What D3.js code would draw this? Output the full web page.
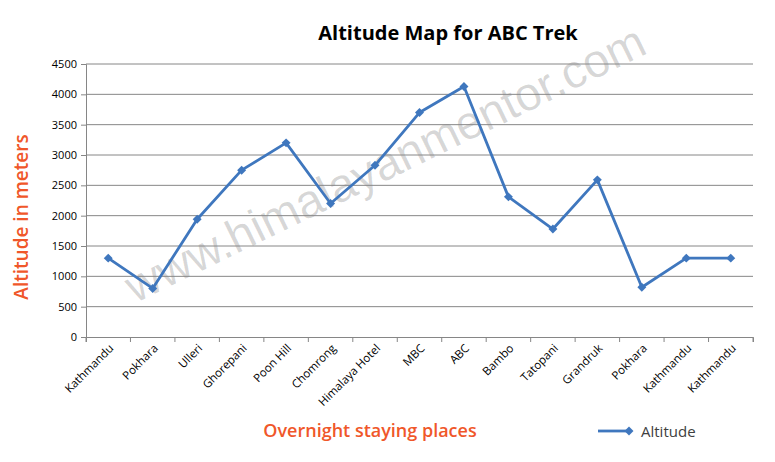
<!DOCTYPE html>
<html>
<head>
<meta charset="utf-8">
<script src="https://cdn.jsdelivr.net/npm/d3@7"></script>
<style>
  body { margin: 0; background: #fff; }
  svg { display: block; }
</style>
</head>
<body>
<script>
// Overnight stops on the trek and their altitudes (m)
var places = ["Kathmandu", "Pokhara", "Ulleri", "Ghorepani", "Poon Hill", "Chomrong",
  "Himalaya Hotel", "MBC", "ABC", "Bambo", "Tatopani", "Grandruk", "Pokhara",
  "Kathmandu", "Kathmandu"];
var altitudes = [1300, 800, 1940, 2750, 3200, 2200, 2830, 3700, 4130, 2310, 1780, 2590, 820, 1300, 1300];
var yTicks = [0, 500, 1000, 1500, 2000, 2500, 3000, 3500, 4000, 4500];

var width = 775, height = 462;
var margin = {top: 64, right: 22, bottom: 125, left: 86};
var blue = "#3f77be", orange = "#f0572a";

var svg = d3.select("body").append("svg")
  .attr("width", width).attr("height", height);

// index-based band scale so the repeated names stay separate
var x = d3.scaleBand()
  .domain(d3.range(places.length))
  .range([margin.left, width - margin.right]);

var y = d3.scaleLinear()
  .domain([0, 4500])
  .range([height - margin.bottom, margin.top]);

// Watermark
svg.append("text")
  .text("www.himalayanmentor.com")
  .attr("transform", "translate(392,178) rotate(-26)")
  .attr("text-anchor", "middle")
  .attr("font-family", "Liberation Sans, Arial, sans-serif")
  .attr("font-size", 47)
  .attr("fill", "#000")
  .attr("fill-opacity", 0.16);

// Gridlines
svg.append("g")
  .selectAll("line")
  .data(yTicks.filter(d => d > 0))
  .enter().append("line")
  .attr("x1", margin.left).attr("x2", width - margin.right)
  .attr("y1", d => y(d)).attr("y2", d => y(d))
  .attr("stroke", "#868686").attr("stroke-width", 1);

// Y axis
var yAxis = svg.append("g")
  .attr("transform", "translate(" + margin.left + ",0)")
  .call(d3.axisLeft(y).tickValues(yTicks).tickFormat(d3.format("d")).tickSize(5).tickPadding(4));

// X axis, ticks on band edges
var xAxis = svg.append("g")
  .attr("transform", "translate(0," + y(0) + ")")
  .call(d3.axisBottom(x).tickFormat(() => "").tickSize(5));
xAxis.selectAll(".tick").attr("transform", d => "translate(" + x(d) + ",0)");
xAxis.append("line")
  .attr("x1", width - margin.right).attr("x2", width - margin.right)
  .attr("y1", 0).attr("y2", 5).attr("stroke", "#868686");

[yAxis, xAxis].forEach(function(g) {
  g.select(".domain").attr("stroke", "#868686");
  g.selectAll(".tick line").attr("stroke", "#868686");
  g.selectAll("text")
    .attr("font-family", "Open Sans, sans-serif")
    .attr("font-size", 11)
    .attr("fill", "#000");
});

// X labels rotated
svg.append("g")
  .selectAll("text")
  .data(places)
  .enter().append("text")
  .text(d => d)
  .attr("transform", (d, i) => "translate(" + (x(i) + x.bandwidth() / 2 + 6) + "," + (y(0) + 12) + ") rotate(-45)")
  .attr("text-anchor", "end")
  .attr("font-family", "Open Sans, sans-serif")
  .attr("font-size", 11.5)
  .attr("fill", "#000");

// Line
var line = d3.line()
  .x((d, i) => x(i) + x.bandwidth() / 2)
  .y(d => y(d));

svg.append("path")
  .datum(altitudes)
  .attr("d", line)
  .attr("fill", "none")
  .attr("stroke", blue)
  .attr("stroke-width", 2.8)
  .attr("stroke-linejoin", "round");

// square markers turned 45 degrees
var marker = d3.symbol().type(d3.symbolSquare).size(40);
svg.append("g")
  .selectAll("path")
  .data(altitudes)
  .enter().append("path")
  .attr("d", marker)
  .attr("transform", (d, i) => "translate(" + (x(i) + x.bandwidth() / 2) + "," + y(d) + ") rotate(45)")
  .attr("fill", blue);

// Title
svg.append("text")
  .text("Altitude Map for ABC Trek")
  .attr("x", 448).attr("y", 40)
  .attr("text-anchor", "middle")
  .attr("font-family", "Open Sans, sans-serif")
  .attr("font-weight", "bold")
  .attr("font-size", 20)
  .attr("fill", "#000");

// Axis titles
svg.append("text")
  .text("Altitude in meters")
  .attr("transform", "translate(28,217) rotate(-90)")
  .attr("text-anchor", "middle")
  .attr("font-family", "Open Sans, sans-serif")
  .attr("font-weight", 600)
  .attr("font-size", 19)
  .attr("fill", orange);

svg.append("text")
  .text("Overnight staying places")
  .attr("x", 370).attr("y", 437)
  .attr("text-anchor", "middle")
  .attr("font-family", "Open Sans, sans-serif")
  .attr("font-weight", 600)
  .attr("font-size", 18)
  .attr("fill", orange);

// Legend
var legend = svg.append("g").attr("transform", "translate(598,431)");
legend.append("line")
  .attr("x1", 0).attr("x2", 32).attr("y1", 0).attr("y2", 0)
  .attr("stroke", blue).attr("stroke-width", 2.8);
legend.append("path")
  .attr("d", marker)
  .attr("transform", "translate(31,0) rotate(45)")
  .attr("fill", blue);
legend.append("text")
  .text("Altitude")
  .attr("x", 43).attr("y", 6)
  .attr("font-family", "Open Sans, sans-serif")
  .attr("font-size", 15)
  .attr("fill", "#404040");
</script>
</body>
</html>
